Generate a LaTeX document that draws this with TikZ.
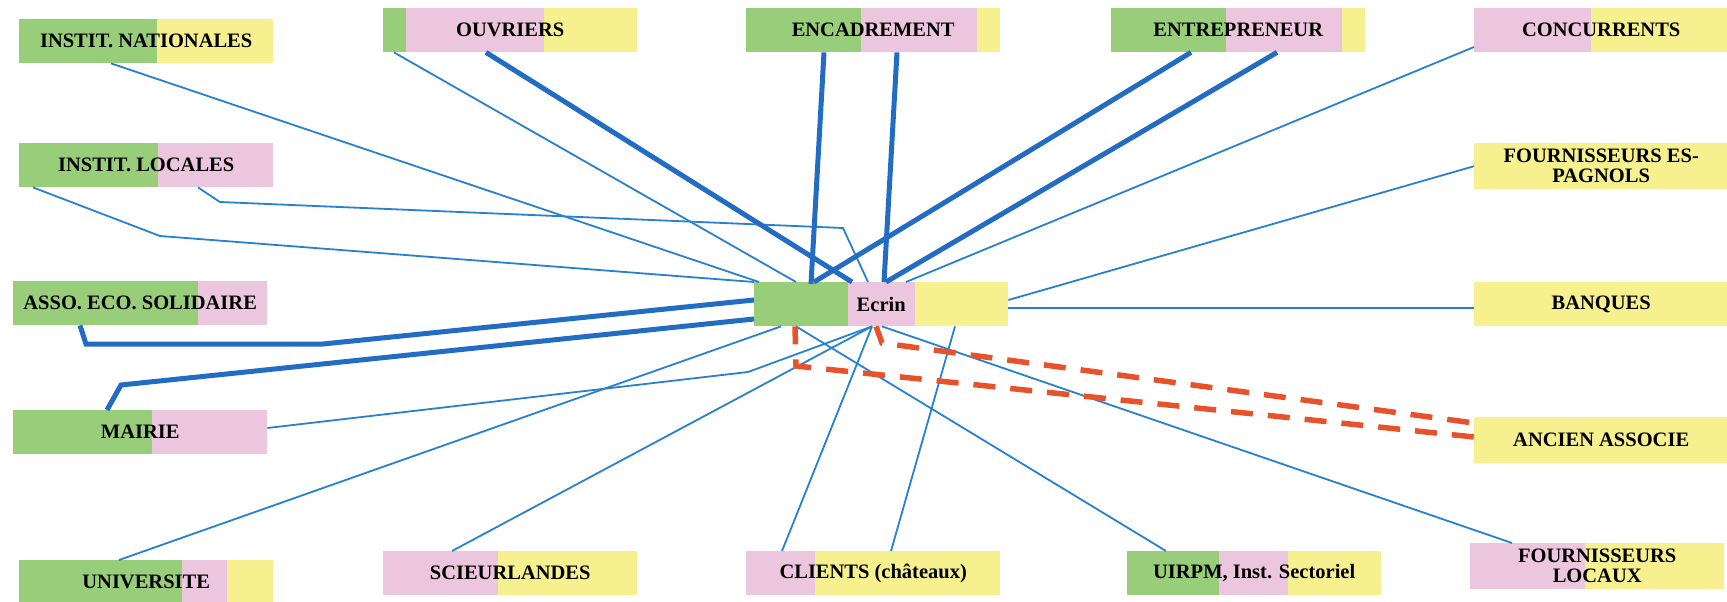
\documentclass[tikz,border=0pt]{standalone}
\usepackage{fontspec}
\setmainfont{Liberation Serif}
\usetikzlibrary{calc}

\definecolor{cgreen}{RGB}{152,206,122}
\definecolor{cpink}{RGB}{236,198,222}
\definecolor{cyellow}{RGB}{246,241,142}
\definecolor{linkblue}{RGB}{40,128,210}
\definecolor{tieblue}{RGB}{35,108,196}
\definecolor{tiered}{RGB}{232,82,42}

\begin{document}
\begin{tikzpicture}[x=1pt,y=-1pt,
  actor/.style={anchor=north west, minimum width=254pt, minimum height=44pt,
    inner sep=0pt, align=center, text=black,
    font=\bfseries\fontsize{20.5}{20}\selectfont},
  % three colour bands: green up to #1, pink up to #2, yellow to the end
  tri/.style 2 args={path picture={
    \path (path picture bounding box.south west) coordinate (bb1)
          (path picture bounding box.north east) coordinate (bb2);
    \fill[cgreen] (bb1) rectangle ($(bb1|-bb2)!#1!(bb2)$);
    \fill[cpink] ($(bb1)!#1!(bb1-|bb2)$) rectangle ($(bb1|-bb2)!#2!(bb2)$);
    \fill[cyellow] ($(bb1)!#2!(bb1-|bb2)$) rectangle (bb2);
  }},
  link/.style={draw=linkblue, line width=1.8pt},
  tie/.style={draw=tieblue, line width=5pt},
  broken/.style={draw=tiered, line width=5.5pt, dash pattern=on 22pt off 15pt},
]
\useasboundingbox (0,0) rectangle (1727,602);

% actors
\node[actor, tri={0.542}{0.542}] (nat)   at (19,19)   {INSTIT. NATIONALES};
\node[actor, tri={0.09}{0.634}]  (ouv)   at (383,8)   {OUVRIERS};
\node[actor, tri={0.453}{0.908}] (enc)   at (746,8)   {ENCADREMENT};
\node[actor, tri={0.453}{0.91}]  (ent)   at (1111,8)  {ENTREPRENEUR};
\node[actor, tri={0}{0.46}]      (conc)  at (1474,8)  {CONCURRENTS};
\node[actor, tri={0.546}{1}]     (loc)   at (19,143)  {INSTIT. LOCALES};
\node[actor, tri={0}{0}, minimum height=46pt] (fes) at (1474,143) {FOURNISSEURS ES-\\PAGNOLS};
\node[actor, tri={0.728}{1}]     (asso)  at (13,281)  {ASSO. ECO. SOLIDAIRE};
\node[actor, tri={0.368}{0.635}] (ecrin) at (754,282) {Ecrin};
\node[actor, tri={0}{0}]         (banq)  at (1474,282) {BANQUES};
\node[actor, tri={0.546}{1}]     (mair)  at (13,410)  {MAIRIE};
\node[actor, tri={0}{0}, minimum height=46pt] (anc) at (1474,417) {ANCIEN ASSOCIE};
\node[actor, tri={0.641}{0.817}] (univ)  at (19,560)  {UNIVERSITE};
\node[actor, tri={0}{0.452}]     (scie)  at (383,551) {SCIEURLANDES};
\node[actor, tri={0}{0.269}]     (cli)   at (746,551) {CLIENTS (châteaux)};
\node[actor, tri={0.36}{0.632}]  (uirpm) at (1127,551) {UIRPM, Inst. Sectoriel};
\node[actor, tri={0}{0.45}, minimum height=46pt] (floc) at (1470,543) {FOURNISSEURS\\LOCAUX};

% bend points
\coordinate (locA)  at (160,236);
\coordinate (locB)  at (220,202);
\coordinate (locC)  at (843,228);
\coordinate (assoA) at (86,344);
\coordinate (assoB) at (323,344);
\coordinate (mairA) at (121,385);
\coordinate (mairB) at (748,372);
\coordinate (ancA)  at (882,343);
\coordinate (ancB)  at (796,366);

% ordinary links
\draw[link] ([xshift=92pt]nat.south west) -- ([xshift=5pt]ecrin.north west);
\draw[link] ([xshift=14pt]loc.south west) -- (locA) -- (ecrin.north west);
\draw[link] ([xshift=179pt]loc.south west) -- (locB) -- (locC) -- ([xshift=114pt]ecrin.north west);
\draw[link] ([xshift=11pt]ouv.south west) -- ([xshift=42pt]ecrin.north west);
\draw[link] ([yshift=-39pt]conc.north west) -- ([xshift=152pt]ecrin.north west);
\draw[link] (fes.west) -- ([yshift=-18pt]ecrin.north east);
\draw[link] ([yshift=-26pt]banq.north west) -- ([yshift=-26pt]ecrin.north east);
\draw[link] ([yshift=-18pt]mair.north east) -- (mairB) -- ([xshift=118pt]ecrin.south west);
\draw[link] ([xshift=100pt]univ.north west) -- ([xshift=27pt]ecrin.south west);
\draw[link] ([xshift=69pt]scie.north west) -- ([xshift=118pt]ecrin.south west);
\draw[link] ([xshift=36pt]cli.north west) -- ([xshift=118pt]ecrin.south west);
\draw[link] ([xshift=145pt]cli.north west) -- ([xshift=201pt]ecrin.south west);
\draw[link] ([xshift=39pt]uirpm.north west) -- ([xshift=42pt]ecrin.south west);
\draw[link] ([xshift=42pt]floc.north west) -- ([xshift=128pt]ecrin.south west);

% strong ties
\draw[tie] ([xshift=103pt]ouv.south west) -- ([xshift=98pt]ecrin.north west);
\draw[tie] ([xshift=78pt]enc.south west) -- ([xshift=57pt,yshift=-2pt]ecrin.north west);
\draw[tie] ([xshift=151pt]enc.south west) -- ([xshift=130pt]ecrin.north west);
\draw[tie] ([xshift=80pt]ent.south west) -- ([xshift=60pt]ecrin.north west);
\draw[tie] ([xshift=166pt]ent.south west) -- ([xshift=132pt]ecrin.north west);
\draw[tie] ([xshift=67pt]asso.south west) -- (assoA) -- (assoB) -- ([yshift=-18pt]ecrin.north west);
\draw[tie] ([xshift=94pt]mair.north west) -- (mairA) -- ([yshift=-37pt]ecrin.north west);

% broken ties
\draw[broken, dash phase=4pt] ([xshift=122pt]ecrin.south west) -- (ancA) -- ([yshift=-6pt]anc.north west);
\draw[broken, dash phase=4pt] ([xshift=41pt]ecrin.south west) -- (ancB) -- ([yshift=-20pt]anc.north west);
\end{tikzpicture}
\end{document}
